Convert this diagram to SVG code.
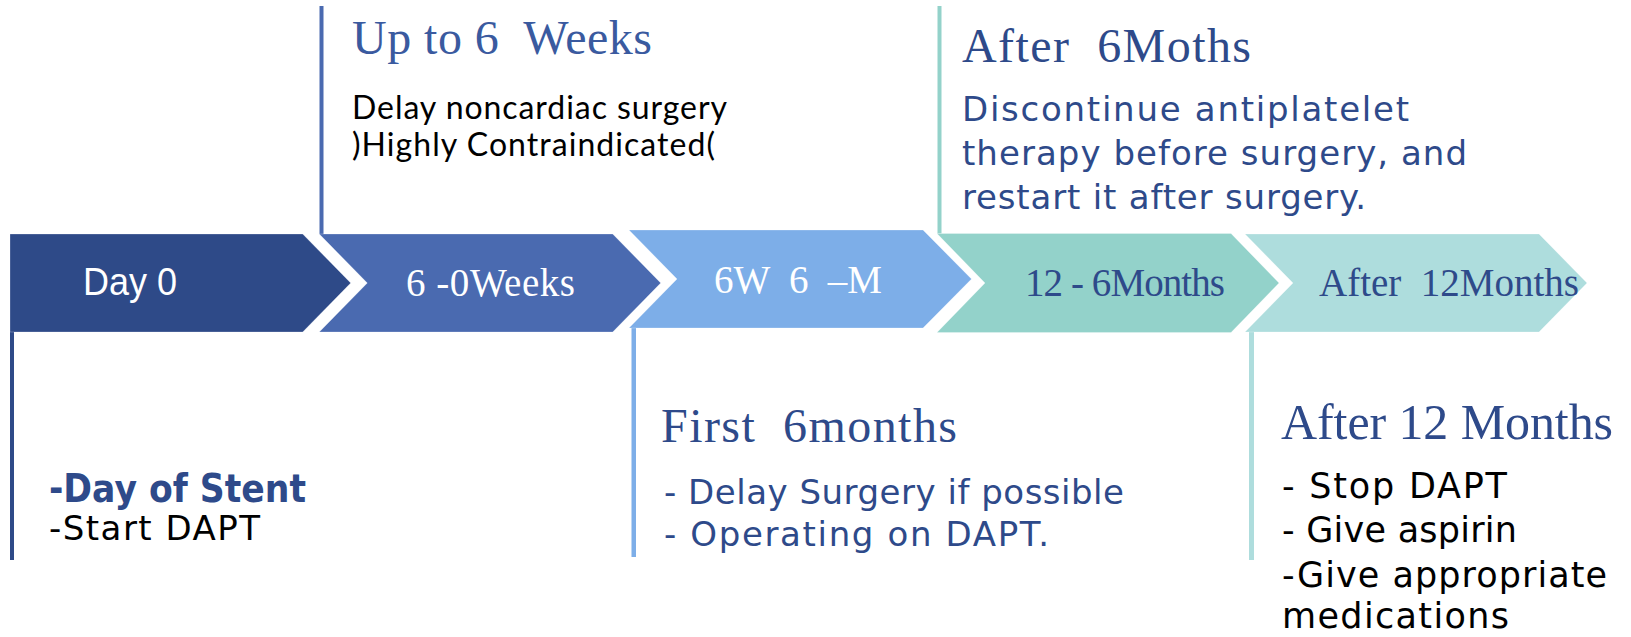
<svg xmlns="http://www.w3.org/2000/svg" width="1631" height="637" viewBox="0 0 1631 637" xml:space="preserve">
<style>
  .serif { font-family: "Liberation Serif", "Times New Roman", serif; white-space: pre; }
  .sans { font-family: "Liberation Sans", Arial, sans-serif; white-space: pre; }
  .verd { font-family: "DejaVu Sans", Verdana, sans-serif; white-space: pre; }
  .cal { font-family: Lato, "Liberation Sans", sans-serif; white-space: pre; }
  .lbl { font-size: 39px; }
  .title { font-size: 48px; }
  .navy { fill: #2E4A8A; }
  .chev { stroke: #ffffff; stroke-opacity: 0.25; stroke-width: 1; }
</style>
<rect width="1631" height="637" fill="#ffffff"/>

<g id="connectors">
  <rect x="10" y="332" width="4" height="228" fill="#2E4A88"/>
  <rect x="319.5" y="6" width="4" height="228" fill="#4A6AB0"/>
  <rect x="631.5" y="328" width="4.5" height="229" fill="#7DAEE8"/>
  <rect x="937.5" y="6" width="4" height="227.5" fill="#93D2CA"/>
  <rect x="1249" y="332" width="5" height="228" fill="#AEDDDD"/>
</g>

<g id="stage-day0">
  <polygon class="chev" points="10,234 302.7,234 350.7,283 302.7,332 10,332" fill="#2E4A88"/>
  <text class="sans" x="83" y="295" font-size="39" fill="#ffffff" textLength="94" lengthAdjust="spacingAndGlyphs">Day 0</text>
</g>

<g id="stage-0-6weeks">
  <polygon class="chev" points="319.3,234 612.7,234 660.7,283 612.7,332 319.3,332 367.3,283" fill="#4A6AB0"/>
  <text class="serif lbl" x="406" y="296" fill="#ffffff" textLength="169">6 -0Weeks</text>
</g>

<g id="stage-6w-6m">
  <polygon class="chev" points="629,230 923,230 971.5,279 923,328 629,328 677,279" fill="#7DAEE8"/>
  <text class="serif lbl" x="714" y="293" fill="#ffffff" textLength="168">6W  6  –M</text>
</g>

<g id="stage-6-12months">
  <polygon class="chev" points="937,233.5 1231,233.5 1279,283 1231,332.5 937,332.5 985,283" fill="#93D2CA"/>
  <text class="serif lbl navy" x="1025" y="296" textLength="200">12 - 6Months</text>
</g>

<g id="stage-after-12months">
  <polygon class="chev" points="1245,234 1539,234 1587,283 1539,332 1245,332 1293,283" fill="#AEDDDD"/>
  <text class="serif lbl navy" x="1319" y="296" textLength="260">After  12Months</text>
</g>

<g id="note-up-to-6-weeks">
  <text class="serif title" x="352" y="54" fill="#3A5A9F" textLength="300">Up to 6  Weeks</text>
  <text class="cal" x="352" y="119" font-size="32" fill="#000000" textLength="375">Delay noncardiac surgery</text>
  <text class="cal" x="352" y="156" font-size="32" fill="#000000" textLength="363">)Highly Contraindicated(</text>
</g>

<g id="note-after-6-months">
  <text class="serif title navy" x="962" y="62" textLength="289">After  6Moths</text>
  <text class="verd navy" x="962" y="121" font-size="34" textLength="447">Discontinue antiplatelet</text>
  <text class="verd navy" x="962" y="165" font-size="34" textLength="505">therapy before surgery, and</text>
  <text class="verd navy" x="962" y="209" font-size="34" textLength="404">restart it after surgery.</text>
</g>

<g id="note-day-of-stent">
  <text class="verd navy" x="49" y="502" font-size="39" font-weight="bold" textLength="257" lengthAdjust="spacingAndGlyphs">-Day of Stent</text>
  <text class="verd" x="49" y="540" font-size="34" fill="#000000" textLength="211">-Start DAPT</text>
</g>

<g id="note-first-6-months">
  <text class="serif title navy" x="661" y="442" textLength="296">First  6months</text>
  <text class="verd navy" x="664" y="504" font-size="34" textLength="460">- Delay Surgery if possible</text>
  <text class="verd navy" x="664" y="546" font-size="34" textLength="385">- Operating on DAPT.</text>
</g>

<g id="note-after-12-months">
  <text class="serif navy" x="1281" y="439" font-size="50" textLength="332">After 12 Months</text>
  <text class="verd" x="1282" y="498" font-size="35" fill="#000000" textLength="225">- Stop DAPT</text>
  <text class="verd" x="1282" y="541.5" font-size="35" fill="#000000" textLength="235">- Give aspirin</text>
  <text class="verd" x="1282" y="587" font-size="35" fill="#000000" textLength="325">-Give appropriate</text>
  <text class="verd" x="1282" y="628" font-size="35" fill="#000000" textLength="227">medications</text>
</g>
</svg>
